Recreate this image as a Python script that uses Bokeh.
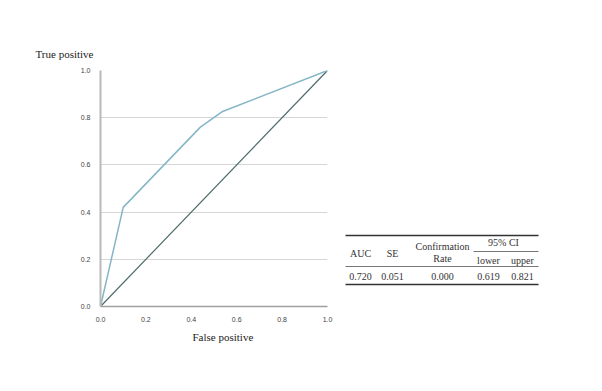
from bokeh.plotting import figure
from bokeh.models import Range1d, Title, FixedTicker, NumeralTickFormatter
from bokeh.layouts import row
from bokeh.embed import file_html
from bokeh.resources import INLINE
from bokeh.core.properties import value

# ROC data
fpr = [0.0, 0.10, 0.44, 0.535, 1.0]
tpr = [0.0, 0.42, 0.76, 0.825, 1.0]
ref_x = [0.0, 1.0]
ref_y = [0.0, 1.0]
ticks = [0.0, 0.2, 0.4, 0.6, 0.8, 1.0]

# Table data
hdr_single = ["AUC", "SE"]
hdr_conf = ["Confirmation", "Rate"]
hdr_ci = "95% CI"
hdr_sub = ["lower", "upper"]
row_vals = ["0.720", "0.051", "0.000", "0.619", "0.821"]

p = figure(width=343, height=380, output_backend="svg", toolbar_location=None,
           x_range=Range1d(0, 1), y_range=Range1d(0, 1),
           min_border_left=100, min_border_right=16, min_border_top=70, min_border_bottom=74)
p.outline_line_color = None
p.background_fill_color = "white"
p.border_fill_color = "white"

p.line(ref_x, ref_y, line_color="#4d6b6b", line_width=1.2)
p.line(fpr, tpr, line_color="#84b6c6", line_width=1.5)

for ax in (p.xaxis[0], p.yaxis[0]):
    ax.ticker = FixedTicker(ticks=ticks)
    ax.formatter = NumeralTickFormatter(format="0.0")
    ax.major_tick_line_color = None
    ax.minor_tick_line_color = None
    ax.major_label_text_font = "Liberation Sans"
    ax.major_label_text_font_size = "7px"
    ax.major_label_text_color = "#444444"
    ax.major_label_standoff = 4
p.yaxis.axis_line_color = "#b8b8b8"
p.yaxis.axis_line_width = 2
p.xaxis.axis_line_color = "#a0a0a0"
p.xaxis.axis_line_width = 1.5
p.xgrid.grid_line_color = None
p.ygrid.ticker = FixedTicker(ticks=ticks)
p.ygrid.grid_line_color = "#d6d6d6"
p.ygrid.grid_line_width = 1

p.add_layout(Title(text="True positive", align="left", offset=-65, standoff=22,
                   text_font="Liberation Serif", text_font_size="11px", text_font_style="normal",
                   text_color="#222222"), "above")
p.add_layout(Title(text="False positive", align="left", offset=92, standoff=9,
                   text_font="Liberation Serif", text_font_size="11px", text_font_style="normal",
                   text_color="#222222"), "below")

# Table figure (its frame is aligned vertically with the chart frame)
t = figure(width=225, height=380, output_backend="svg", toolbar_location=None,
           x_range=Range1d(0, 225), y_range=Range1d(298, 62),
           min_border_left=0, min_border_right=0, min_border_top=70, min_border_bottom=74)
t.axis.visible = False
t.grid.visible = False
t.outline_line_color = None

col_x = [17, 49, 99, 145, 179]
font = value("Liberation Serif")
tc = "#333333"

# rules
t.segment(x0=[2, 2], y0=[227, 276], x1=[195, 195], y1=[227, 276], line_color="#333333", line_width=1.6)
t.segment(x0=[2, 130], y0=[258, 243], x1=[195, 195], y1=[258, 243], line_color="#777777", line_width=1)

t.text(x=col_x[:2], y=[245, 245], text=hdr_single, text_font=font, text_font_size="10px",
       text_color=tc, text_align="center", text_baseline="middle")
t.text(x=[col_x[2], col_x[2]], y=[238, 250], text=hdr_conf, text_font=font, text_font_size="10px",
       text_color=tc, text_align="center", text_baseline="middle")
t.text(x=[(col_x[3] + col_x[4]) / 2 - 2], y=[234], text=[hdr_ci], text_font=font, text_font_size="10px",
       text_color=tc, text_align="center", text_baseline="middle")
t.text(x=col_x[3:], y=[252, 252], text=hdr_sub, text_font=font, text_font_size="10px",
       text_color=tc, text_align="center", text_baseline="middle")
t.text(x=col_x, y=[268] * 5, text=row_vals, text_font=font, text_font_size="10px",
       text_color=tc, text_align="center", text_baseline="middle")

layout = row(p, t)
open("out.html", "w").write(file_html(layout, INLINE))
